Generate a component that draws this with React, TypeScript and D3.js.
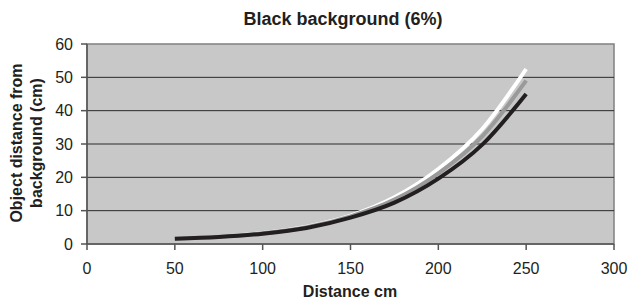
import * as d3 from "d3";

// distances (cm) where the curves are sampled
const distances = [50, 75, 100, 125, 150, 175, 200, 225, 250];
// object distance from background (cm), one list per curve
const whiteSeries = [1.6, 2.2, 3.3, 5.2, 8.5, 14, 22.5, 34.5, 52.5];
const graySeries = [1.6, 2.2, 3.2, 5.0, 8.3, 13.3, 21.2, 32.3, 49];
const blackSeries = [1.6, 2.1, 3.1, 4.8, 7.9, 12.4, 19.6, 29.8, 45];
const xTicks = [0, 50, 100, 150, 200, 250, 300];
const yTicks = [0, 10, 20, 30, 40, 50, 60];

const W = 628;
const H = 305;
const plot = { left: 87, right: 614, top: 44, bottom: 244 };
const font = "'Liberation Sans', Arial, sans-serif";

export default function App() {
  const x = d3.scaleLinear().domain([0, 300]).range([plot.left, plot.right]);
  const y = d3.scaleLinear().domain([0, 60]).range([plot.bottom, plot.top]);

  const line = d3
    .line<number>()
    .x((_, i) => x(distances[i]))
    .y((d) => y(d))
    .curve(d3.curveMonotoneX);

  // drawn back to front: white, gray, black on top
  const series = [
    { values: whiteSeries, color: "#ffffff" },
    { values: graySeries, color: "#9a9a9a" },
    { values: blackSeries, color: "#231f20" },
  ];

  return (
    <svg
      width={W}
      height={H}
      style={{ position: "absolute", left: 0, top: 0, background: "#fff" }}
      fontFamily={font}
    >
      <text
        x={343}
        y={25}
        textAnchor="middle"
        fontWeight="bold"
        fontSize={18}
        fill="#231f20"
      >
        Black background (6%)
      </text>

      <rect
        x={plot.left}
        y={plot.top}
        width={plot.right - plot.left}
        height={plot.bottom - plot.top}
        fill="#c8c8c8"
        stroke="#808080"
        strokeWidth={1.5}
      />

      {/* horizontal gridlines */}
      {yTicks
        .filter((t) => t > 0 && t < 60)
        .map((t) => (
          <line
            key={"g" + t}
            x1={plot.left}
            x2={plot.right}
            y1={y(t)}
            y2={y(t)}
            stroke="#2a2a2a"
            strokeWidth={1}
          />
        ))}

      {/* axes */}
      <line x1={plot.left} x2={plot.left} y1={plot.top} y2={plot.bottom} stroke="#555" strokeWidth={1.5} />
      <line x1={plot.left} x2={plot.right} y1={plot.bottom} y2={plot.bottom} stroke="#555" strokeWidth={1.5} />

      {yTicks.map((t) => (
        <g key={"y" + t}>
          <line x1={plot.left - 6} x2={plot.left} y1={y(t)} y2={y(t)} stroke="#555" strokeWidth={1.5} />
          <text x={73} y={y(t) + 5.5} textAnchor="end" fontSize={16} fill="#231f20">
            {t}
          </text>
        </g>
      ))}

      {xTicks.map((t) => (
        <g key={"x" + t}>
          <line x1={x(t)} x2={x(t)} y1={plot.bottom} y2={plot.bottom + 6} stroke="#555" strokeWidth={1.5} />
          <text x={x(t)} y={274} textAnchor="middle" fontSize={16} fill="#231f20">
            {t}
          </text>
        </g>
      ))}

      {series.map((s, i) => (
        <path
          key={i}
          d={line(s.values) ?? ""}
          fill="none"
          stroke={s.color}
          strokeWidth={4}
        />
      ))}

      <text x={350} y={297} textAnchor="middle" fontWeight="bold" fontSize={16} fill="#231f20">
        Distance cm
      </text>

      <g transform="translate(0,143) rotate(-90)" fontWeight="bold" fontSize={16} fill="#231f20">
        <text x={0} y={22} textAnchor="middle">
          Object distance from
        </text>
        <text x={0} y={42} textAnchor="middle">
          background (cm)
        </text>
      </g>
    </svg>
  );
}
